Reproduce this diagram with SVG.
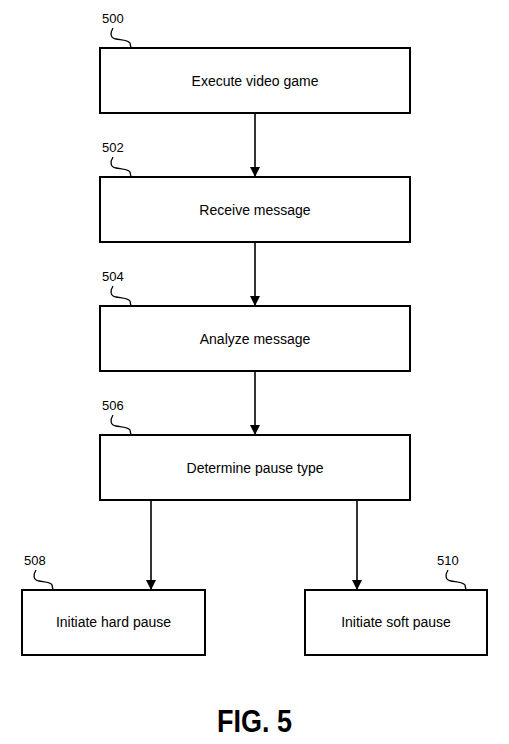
<svg xmlns="http://www.w3.org/2000/svg" width="509" height="744" viewBox="0 0 509 744">
<style>
.box{fill:#fff;stroke:#000;stroke-width:2}
.t{font-family:"Liberation Sans",Arial,sans-serif;font-size:14px;fill:#000;text-anchor:middle}
.lbl{font-family:"Liberation Sans",Arial,sans-serif;font-size:13px;fill:#000}
.lead{fill:none;stroke:#000;stroke-width:1.3}
.conn{stroke:#000;stroke-width:1.6;fill:none;marker-end:url(#ah)}
</style>
<defs>
<marker id="ah" viewBox="0 0 10 10" refX="10" refY="5" markerWidth="10" markerHeight="10" markerUnits="userSpaceOnUse" orient="auto">
<path d="M0,0 L10,5 L0,10 z" fill="#000"/>
</marker>
</defs>
<rect width="509" height="744" fill="#fff"/>
<g id="connectors">
<line class="conn" x1="255" y1="113" x2="255" y2="177"/>
<line class="conn" x1="255" y1="242" x2="255" y2="306"/>
<line class="conn" x1="255" y1="371" x2="255" y2="435"/>
<line class="conn" x1="151" y1="500" x2="151" y2="590"/>
<line class="conn" x1="357" y1="500" x2="357" y2="590"/>
</g>
<g id="n500">
<rect class="box" x="100" y="48" width="310" height="65"/>
<text class="t" x="255" y="86">Execute video game</text>
<text class="lbl" x="102" y="23">500</text>
<path class="lead" d="M113,28 C110,33 110,38 116,39 C121,40 128,40 130,43 L131,48"/>
</g>
<g id="n502">
<rect class="box" x="100" y="177" width="310" height="65"/>
<text class="t" x="255" y="215">Receive message</text>
<text class="lbl" x="102" y="152">502</text>
<path class="lead" d="M113,157 C110,162 110,167 116,168 C121,169 128,169 130,172 L131,177"/>
</g>
<g id="n504">
<rect class="box" x="100" y="306" width="310" height="65"/>
<text class="t" x="255" y="344">Analyze message</text>
<text class="lbl" x="102" y="281">504</text>
<path class="lead" d="M113,286 C110,291 110,296 116,297 C121,298 128,298 130,301 L131,306"/>
</g>
<g id="n506">
<rect class="box" x="100" y="435" width="310" height="65"/>
<text class="t" x="255" y="473">Determine pause type</text>
<text class="lbl" x="102" y="410">506</text>
<path class="lead" d="M113,415 C110,420 110,425 116,426 C121,427 128,427 130,430 L131,435"/>
</g>
<g id="n508">
<rect class="box" x="22" y="590" width="183" height="65"/>
<text class="t" x="113.5" y="627">Initiate hard pause</text>
<text class="lbl" x="24" y="565">508</text>
<path class="lead" d="M36,570 C33,575 33,580 39,581 C44,582 51,582 52,585 L53,590"/>
</g>
<g id="n510">
<rect class="box" x="305" y="590" width="182" height="65"/>
<text class="t" x="396" y="627">Initiate soft pause</text>
<text class="lbl" x="437" y="565">510</text>
<path class="lead" d="M448,570 C445,575 445,580 451,581 C456,582 463,582 465,585 L466,590"/>
</g>
<text x="217" y="732" font-family="Liberation Sans,Arial,sans-serif" font-weight="bold" font-size="32" textLength="75" lengthAdjust="spacingAndGlyphs">FIG. 5</text>
</svg>
